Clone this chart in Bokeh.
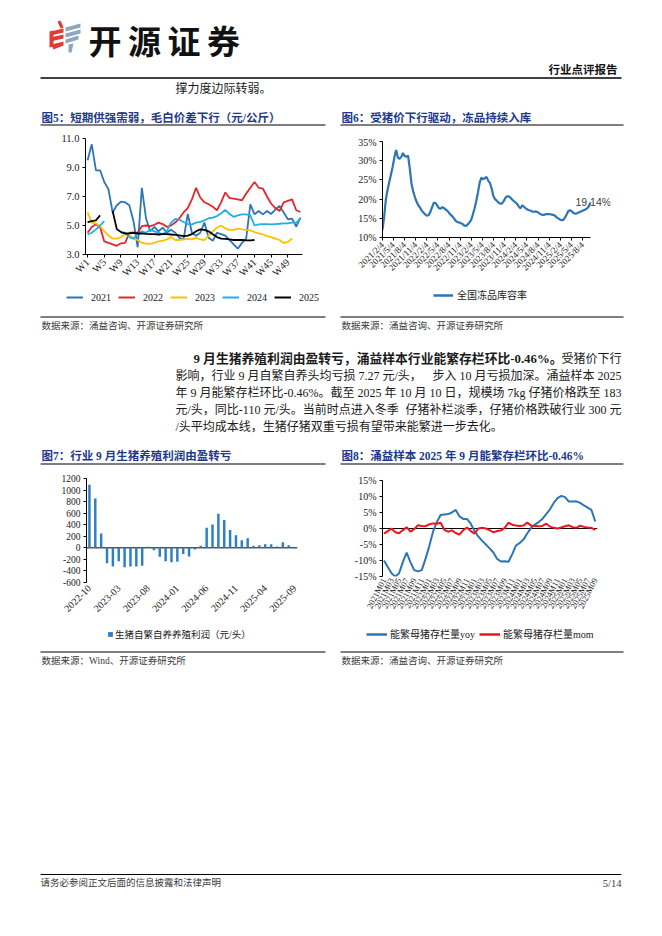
from datetime import datetime
from math import pi

import pandas as pd
from bokeh.core.properties import value
from bokeh.embed import file_html
from bokeh.layouts import column, row
from bokeh.models import (FixedTicker, Label, Legend, LegendItem, NumeralTickFormatter,
                          PrintfTickFormatter, Range1d, Spacer, Span)
from bokeh.plotting import figure
from bokeh.resources import INLINE

NAN = float("nan")

# ---------------- Figure 5 data: weekly spread (yuan/kg) ----------------
week_numbers = list(range(1, 53))
week_tick_labels = ["W1", "W5", "W9", "W13", "W17", "W21", "W25", "W29", "W33",
                    "W37", "W41", "W45", "W49"]
spread_years = ["2021", "2022", "2023", "2024", "2025"]
spread_2021 = [9.5, 10.6, 8.8, 8.8, 8.0, 7.5, 5.9, 6.4, 6.65, 6.6,
               6.4, 5.3, 3.5, 7.6, 5.5, 4.6, 4.9, 4.6, 4.85, 4.5,
               4.7, 4.5, 4.15, 4.05, 5.8, 4.5, 4.3, 4.5, 5.2, 4.15,
               3.95, 4.5, 4.4, 4.3, 4.0, 3.7, 3.4, 3.8, 4.1, 6.46,
               5.77, 6.0, 5.77, 6.0, 5.8, 6.1, 6.35, 5.9, 5.43, 5.47,
               4.92, 5.54]
spread_2022 = [4.5, 4.9, 5.08, 4.9, 3.9, 3.8, 3.7, 3.6, 3.77, 3.8,
               4.5, 4.5, 4.5, 4.95, 5.0, 4.95, 5.05, 5.2, 5.1, 4.9,
               5.0, 5.2, 5.5, 5.9, 6.2, 6.8, 7.6, 6.93, 6.6, 6.47,
               6.3, 6.05, 6.6, 7.28, 6.9, 6.86, 6.8, 6.74, 7.2, 7.6,
               8.0, 7.6, 7.55, 7.0, 6.5, 6.2, 6.0, 6.6, 6.7, 6.8,
               6.05, 5.93]
spread_2023 = [5.9, 5.2, 5.15, 4.95, 4.6, 4.3, 4.1, 4.1, 4.2, 4.4,
               4.35, 4.1, 4.0, 3.8, 3.75, 3.74, 3.8, 3.9, 3.95, 4.04,
               4.2, 4.0, 4.0, 4.05, 4.08, 4.04, 4.15, 4.05, 4.0, 4.3,
               4.6, 4.85, 5.0, 4.8, 4.7, 4.7, 4.78, 4.73, 4.7, 4.66,
               4.55, 4.45, 4.38, 4.27, 4.2, 4.1, 4.0, 3.8, 3.85, 4.1,
               NAN, NAN]
spread_2024 = [4.38, 4.5, 4.73, 5.0, 5.3, NAN, NAN, NAN, 4.5, 4.5,
               4.2, 4.1, 4.4, 4.6, 4.5, 4.7, 4.6, 4.5, 4.4, 4.6,
               5.2, 5.45, 5.4, 5.24, 5.1, 5.08, 5.2, 5.25, 5.35, 5.5,
               5.55, 5.65, 5.85, 6.07, 5.8, 5.6, 5.7, 5.77, 5.77, 5.7,
               5.0, 5.08, 5.1, 5.1, 5.08, 5.1, 5.12, 5.15, 5.15, 5.2,
               5.2, 5.47]
spread_2025 = [5.24, 5.3, 5.35, 5.7, NAN, NAN, 6.0, 4.75, 4.55, 4.45,
               4.45, 4.5, 4.45, 4.45, 4.42, 4.4, 4.4, 4.38, 4.4, 4.4,
               4.38, 4.35, 4.32, 4.27, 4.3, 4.4, 4.6, 4.73, 4.7, 4.6,
               4.4, 4.2, 4.1, 4.08, 4.05, 4.0, 4.0, 4.0, 3.98, 3.98,
               4.0, NAN, NAN, NAN, NAN, NAN, NAN, NAN, NAN, NAN,
               NAN, NAN]
spread_y_ticks = [3.0, 5.0, 7.0, 9.0, 11.0]

# ---------------- Figure 6 data: frozen storage rate (%) ----------------
storage_start = "2021-02-04"
storage_step = "14D"
storage_rate = [12.0, 15.5, 20.0, 22.5, 24.5, 26.5, 28.5, 31.0, 32.8, 30.8,
                30.5, 31.0, 32.0, 31.2, 31.0, 31.3, 28.0, 24.0, 22.0, 20.5,
                19.3, 18.4, 17.8, 17.0, 16.5, 16.0, 15.7, 15.8, 16.6, 17.8,
                19.0, 19.0, 18.4, 17.7, 17.5, 17.9, 17.7, 17.3, 17.0, 16.4,
                15.9, 15.5, 14.9, 14.3, 14.0, 13.9, 13.7, 13.5, 13.1, 13.05,
                13.4, 13.9, 14.6, 16.0, 17.6, 19.5, 21.8, 24.3, 25.6, 25.2,
                25.4, 25.8, 24.8, 24.2, 22.8, 20.8, 20.0, 19.6, 19.1, 18.8,
                18.8, 19.4, 20.3, 20.7, 20.7, 20.4, 19.9, 19.5, 19.1, 18.7,
                18.0, 17.6, 18.4, 18.0, 17.6, 17.3, 17.1, 17.0, 16.7, 16.7,
                16.8, 16.6, 16.3, 16.0, 15.9, 15.9, 16.1, 16.1, 16.1, 16.0,
                15.9, 15.7, 15.3, 15.0, 14.7, 14.5, 14.6, 15.2, 16.0, 16.9,
                17.1, 16.8, 16.4, 16.2, 16.3, 16.5, 16.7, 16.9, 17.1, 17.3,
                17.6, 18.1, 19.14]
storage_tick_labels = ["2021/2/4", "2021/5/4", "2021/8/4", "2021/11/4",
                       "2022/2/4", "2022/5/4", "2022/8/4", "2022/11/4",
                       "2023/2/4", "2023/5/4", "2023/8/4", "2023/11/4",
                       "2024/2/4", "2024/5/4", "2024/8/4", "2024/11/4",
                       "2025/2/4", "2025/5/4", "2025/8/4"]
storage_y_ticks = [10, 15, 20, 25, 30, 35]
storage_legend = "全国冻品库容率"

# ---------------- Figure 7 data: monthly profit (yuan/head) ----------------
profit_months = pd.period_range("2022-10", "2025-09", freq="M").strftime("%Y-%m").tolist()
profit_values = [1092, 852, 246, -268, -325, -234, -337, -325, -325, -308,
                 17, -40, -154, -234, -251, -240, -108, -148, -30, 34,
                 349, 406, 589, 480, 309, 218, 132, 166, 34, 46,
                 63, 63, 25, 97, 46, -7.27]
profit_tick_labels = ["2022-10", "2023-03", "2023-08", "2024-01", "2024-06",
                      "2024-11", "2025-04", "2025-09"]
profit_y_ticks = [-600, -400, -200, 0, 200, 400, 600, 800, 1000, 1200]
profit_legend = "生猪自繁自养养殖利润（元/头）"

# ---------------- Figure 8 data: sow inventory (%) ----------------
sow_months = [f"{y}M{m:02d}" for y in range(2021, 2026) for m in range(1, 13)][:57]
sow_yoy = [-10.0, -12.0, -14.0, -15.0, -14.0, -10.5, -7.5, -10.5, -13.0, -13.4,
           -13.0, -9.5, -5.5, -1.0, 2.0, 4.2, 4.4, 4.5, 5.0, 5.8,
           3.8, 3.0, 3.0, 1.5, -0.8, -2.5, -3.8, -5.0, -6.2, -7.5,
           -9.5, -10.3, -10.2, -10.4, -8.0, -5.3, -4.5, -3.4, -1.5, 0.2,
           1.2, 2.0, 3.0, 4.5, 6.0, 8.0, 9.5, 10.2, 9.8, 8.4,
           8.4, 8.5, 8.0, 7.2, 6.5, 5.8, 2.2]
sow_mom = [-1.6, -0.8, 0.0, -1.2, -1.5, -0.5, 0.4, -1.0, -0.2, 1.0,
           0.8, 0.7, 1.3, 1.6, 1.5, 1.8, -0.4, -1.0, -0.6, -1.4,
           -1.9, -0.5, 0.3, -0.8, -1.6, 0.0, 0.2, 0.0, -0.5, -1.2,
           -0.8, -0.6, 0.2, 1.8, 1.2, 0.9, 0.8, 0.9, 1.9, 0.9,
           0.8, 0.7, 0.8, 1.5, 0.6, 0.2, 0.0, 0.3, 0.7, 1.0,
           0.4, 0.2, 0.9, 0.5, 0.3, 0.2, -0.46]
sow_tick_labels = sow_months[::2]
sow_y_ticks = [-15, -10, -5, 0, 5, 10, 15]
sow_legends = ["能繁母猪存栏量yoy", "能繁母猪存栏量mom"]

for s in (spread_2021, spread_2022, spread_2023, spread_2024, spread_2025):
    assert len(s) == 52
assert len(profit_values) == len(profit_months) == 36
assert len(sow_yoy) == len(sow_mom) == len(sow_months) == 57

# ---------------- styles ----------------
C_BLUE = "#2C75B8"
C_RED = "#E5262B"
C_GOLD = "#FFC000"
C_LIGHT = "#1FAEE8"
C_BLACK = "#000000"
NAVY = "#1D3A8A"
TXT = "#1a1a1a"
SRC = "#3a3a3a"
CJK = "Noto Sans CJK SC"
MIX = "Liberation Serif, Noto Sans CJK SC"
SERIF = "Liberation Serif"
PAGE_W = 662


def strip(top, height):
    p = figure(width=PAGE_W, height=height, x_range=Range1d(0, PAGE_W),
               y_range=Range1d(top + height, top), output_backend="svg",
               toolbar_location=None, x_axis_location=None, y_axis_location=None,
               min_border=0)
    p.outline_line_color = None
    p.xgrid.visible = False
    p.ygrid.visible = False
    return p


def put(p, x, y, s, size, color=TXT, font=MIX, bold=False, align="left"):
    p.text(x=[x], y=[y], text=[s], text_font=value(font), text_font_size=f"{size}px",
           text_color=color, text_font_style="bold" if bold else "normal",
           text_align=align, text_baseline="middle")


def rule(p, x0, x1, y, w=1.0):
    p.segment(x0=[x0], y0=[y], x1=[x1], y1=[y], line_color="black", line_width=w)


def chart(width, height, bl, br, bt, bb, xr, yr, x_axis_type="linear"):
    p = figure(width=width, height=height, x_range=xr, y_range=yr, x_axis_type=x_axis_type,
               output_backend="svg", toolbar_location=None,
               min_border_left=bl, min_border_right=br, min_border_top=bt, min_border_bottom=bb)
    p.outline_line_color = None
    p.xgrid.visible = False
    p.ygrid.visible = False
    for ax in (p.xaxis[0], p.yaxis[0]):
        ax.axis_line_color = "black"
        ax.axis_line_width = 1
        ax.major_tick_line_color = "black"
        ax.major_tick_out = 3
        ax.major_tick_in = 0
        ax.minor_tick_line_color = None
        ax.major_label_text_font = SERIF
        ax.major_label_text_color = TXT
        ax.major_label_standoff = 3
    return p


def make_legend(p, items, loc, font, size, gw, gh, standoff, spacing, label_width=20):
    leg = Legend(items=items, orientation="horizontal", location=loc,
                 label_text_font=font, label_text_font_size=f"{size}px",
                 label_text_color=TXT, glyph_width=gw, glyph_height=gh,
                 label_standoff=standoff, spacing=spacing, padding=0, margin=0,
                 label_height=12, label_width=label_width,
                 border_line_color=None, background_fill_alpha=0)
    p.add_layout(leg)


# ---------------- Strip 1: header (page y 0..133) ----------------
s1 = strip(0, 133)
s1.patches(xs=[[57, 60, 63, 60], [50, 63, 63, 50], [50, 63, 63, 50], [49, 53, 53, 49], [51, 63, 63, 53]],
           ys=[[21, 20, 27, 28], [31, 28, 32, 35], [37, 34, 38, 41], [31, 30, 46, 47], [44, 41, 45, 49]],
           fill_color="#E03C31", line_color=None)
s1.patches(xs=[[65, 80, 80, 65], [65, 80, 80, 65], [65, 78, 78, 65], [68, 73, 71, 68]],
           ys=[[27, 23, 27, 31], [33, 29, 33, 37], [39, 35, 39, 43], [44, 43, 52, 52]],
           fill_color="#8FA7BE", line_color=None)
for ch, cx in zip("开源证券", [104.5, 144, 183.5, 223]):
    put(s1, cx, 39.5, ch, 33, color="#111111", font=CJK, bold=True, align="center")
put(s1, 617, 68, "行业点评报告", 11.5, color="#111111", font=CJK, bold=True, align="right")
rule(s1, 40, 621, 77.5, 1.5)
put(s1, 175, 88, "撑力度边际转弱。", 12)
put(s1, 41, 117, "图5：短期供强需弱，毛白价差下行（元/公斤）", 11.5, color=NAVY, bold=True)
put(s1, 341, 117, "图6：受猪价下行驱动，冻品持续入库", 11.5, color=NAVY, bold=True)
rule(s1, 40, 325, 124.5, 1.2)
rule(s1, 340, 623, 124.5, 1.2)

# ---------------- Figure 5 (page y 133..288) ----------------
p5 = chart(333, 155, 85, 31, 5, 34, Range1d(0.5, 52.5), Range1d(3, 11))
spread_colors = [C_BLUE, C_RED, C_GOLD, C_LIGHT, C_BLACK]
for ys, col in zip([spread_2021, spread_2022, spread_2023, spread_2024, spread_2025], spread_colors):
    p5.line(x=week_numbers, y=ys, line_color=col, line_width=1.8)
p5.xaxis.ticker = FixedTicker(ticks=[int(s[1:]) for s in week_tick_labels])
p5.xaxis.major_label_overrides = {int(s[1:]): s for s in week_tick_labels}
p5.xaxis.major_label_orientation = pi / 4
p5.xaxis.major_label_text_font_size = "10px"
p5.yaxis.ticker = FixedTicker(ticks=spread_y_ticks)
p5.yaxis.formatter = NumeralTickFormatter(format="0.0")
p5.yaxis.major_label_text_font_size = "10.5px"

# ---------------- Figure 6 ----------------
storage_dates = pd.date_range(storage_start, periods=len(storage_rate), freq=storage_step)
storage_pad = pd.Timedelta(days=164)   # room on the right for the end-value label
p6 = chart(329, 145, 49, 52, 5, 44, Range1d(storage_dates[0], storage_dates[-1] + storage_pad),
           Range1d(10, 35), x_axis_type="datetime")
p6.line(x=storage_dates, y=storage_rate, line_color=C_BLUE, line_width=2.2)
tick_ms = [int((pd.Timestamp(datetime.strptime(s, "%Y/%m/%d")) - pd.Timestamp("1970-01-01"))
               // pd.Timedelta("1ms")) for s in storage_tick_labels]
p6.xaxis.ticker = FixedTicker(ticks=tick_ms)
p6.xaxis.major_label_overrides = dict(zip(tick_ms, storage_tick_labels))
p6.xaxis.bounds = (storage_dates[0], storage_dates[-1])
p6.xaxis.major_label_orientation = pi / 4
p6.xaxis.major_label_text_font_size = "9px"
p6.yaxis.ticker = FixedTicker(ticks=storage_y_ticks)
p6.yaxis.formatter = PrintfTickFormatter(format="%d%%")
p6.yaxis.major_label_text_font_size = "10px"
p6.add_layout(Label(x=storage_dates[-1], y=storage_rate[-1], text=f"{storage_rate[-1]:.2f}%",
                    x_offset=-15, text_baseline="middle", text_font="Liberation Sans",
                    text_font_size="10.5px", text_color="#404040"))

# ---------------- Strip 3 (page y 288..468) ----------------
s3 = strip(288, 180)
items5 = []
for lbl, col in zip(spread_years, spread_colors):
    r = s3.line(x=[NAN], y=[NAN], line_color=col, line_width=2)
    items5.append(LegendItem(label=lbl, renderers=[r]))
make_legend(s3, items5, (66, 165), SERIF, 10, 17, 12, 8, 7)
r6 = s3.line(x=[NAN], y=[NAN], line_color=C_BLUE, line_width=2.5)
make_legend(s3, [LegendItem(label=storage_legend, renderers=[r6])], (433, 166), MIX, 10, 20, 12, 4, 0,
            label_width=80)
rule(s3, 40, 325, 316.5, 1.0)
rule(s3, 340, 623, 316.5, 1.0)
put(s3, 41, 325, "数据来源：涌益咨询、开源证券研究所", 9.5, color=SRC)
put(s3, 341, 325, "数据来源：涌益咨询、开源证券研究所", 9.5, color=SRC)
put(s3, 193, 358.5, "9 月生猪养殖利润由盈转亏，涌益样本行业能繁存栏环比-0.46%。", 12.8, bold=True)
put(s3, 621, 358.5, "受猪价下行", 12, align="right")
put(s3, 175, 375.5, "影响，行业 9 月自繁自养头均亏损 7.27 元/头，", 12)
put(s3, 621, 375.5, "步入 10 月亏损加深。涌益样本 2025", 12, align="right")
put(s3, 175, 392.5, "年 9 月能繁存栏环比-0.46%。截至 2025 年 10 月 10 日，", 12)
put(s3, 621, 392.5, "规模场 7kg 仔猪价格跌至 183", 12, align="right")
put(s3, 175, 409.5, "元/头，同比-110 元/头。当前时点进入冬季", 12)
put(s3, 621, 409.5, "仔猪补栏淡季，仔猪价格跌破行业 300 元", 12, align="right")
put(s3, 175, 426.5, "/头平均成本线，生猪仔猪双重亏损有望带来能繁进一步去化。", 12)
put(s3, 41, 455, "图7：行业 9 月生猪养殖利润由盈转亏", 11.5, color=NAVY, bold=True)
put(s3, 341, 455, "图8：涌益样本 2025 年 9 月能繁存栏环比-0.46%", 11.5, color=NAVY, bold=True)
rule(s3, 40, 325, 463.5, 1.2)
rule(s3, 340, 623, 463.5, 1.2)

# ---------------- Figure 7 (page y 468..628) ----------------
BAR = "#2C7FC4"
p7 = chart(333, 160, 86, 36, 10, 46, Range1d(-0.5, len(profit_values) - 0.5), Range1d(-600, 1200))
p7.add_layout(Span(location=0, dimension="width", line_color="black", line_width=1, level="underlay"))
p7.vbar(x=list(range(len(profit_values))), top=profit_values, width=0.42,
        fill_color=BAR, line_color=None)
pos7 = [profit_months.index(s) for s in profit_tick_labels]
p7.xaxis.ticker = FixedTicker(ticks=pos7)
p7.xaxis.major_label_overrides = dict(zip(pos7, profit_tick_labels))
p7.xaxis.major_label_orientation = pi / 4
p7.xaxis.major_label_text_font_size = "10px"
p7.xaxis.axis_line_color = None
p7.xaxis.major_tick_line_color = None
p7.xaxis.major_tick_out = 0
p7.xaxis.major_label_standoff = 4
p7.yaxis.ticker = FixedTicker(ticks=profit_y_ticks)
p7.yaxis.formatter = PrintfTickFormatter(format="%d")
p7.yaxis.major_label_text_font_size = "9.5px"

# ---------------- Figure 8 ----------------
p8 = chart(329, 160, 49, 65, 12, 52, Range1d(-0.4, 56.6), Range1d(-15, 15))
p8.add_layout(Span(location=0, dimension="width", line_color="black", line_width=1, level="underlay"))
sow_x = list(range(len(sow_months)))
p8.line(x=sow_x, y=sow_yoy, line_color=C_BLUE, line_width=2)
p8.line(x=sow_x, y=sow_mom, line_color="#F0141E", line_width=2)
pos8 = [sow_months.index(s) for s in sow_tick_labels]
p8.xaxis.ticker = FixedTicker(ticks=pos8)
p8.xaxis.major_label_overrides = dict(zip(pos8, sow_tick_labels))
p8.xaxis.major_label_orientation = 1.1
p8.xaxis.major_label_text_font_size = "8.5px"
p8.xaxis.axis_line_color = None
p8.xaxis.major_tick_line_color = None
p8.xaxis.major_tick_out = 0
p8.xaxis.major_label_standoff = 2
p8.yaxis.ticker = FixedTicker(ticks=sow_y_ticks)
p8.yaxis.formatter = PrintfTickFormatter(format="%d%%")
p8.yaxis.major_label_text_font_size = "10px"

# ---------------- Strip 5 (page y 628..936) ----------------
s5 = strip(628, 308)
r7 = s5.vbar(x=[NAN], top=[NAN], width=0.5, fill_color=BAR, line_color=None)
make_legend(s5, [LegendItem(label=profit_legend, renderers=[r7])], (107, 295), MIX, 9.5, 6, 6, 2, 0,
            label_width=150)
r8a = s5.line(x=[NAN], y=[NAN], line_color=C_BLUE, line_width=2.5)
r8b = s5.line(x=[NAN], y=[NAN], line_color="#F0141E", line_width=2.5)
make_legend(s5, [LegendItem(label=sow_legends[0], renderers=[r8a]),
                 LegendItem(label=sow_legends[1], renderers=[r8b])],
            (366, 295), MIX, 10, 21, 12, 3, 4)
rule(s5, 40, 325, 651.5, 1.0)
rule(s5, 340, 623, 651.5, 1.0)
put(s5, 41, 660, "数据来源：Wind、开源证券研究所", 9.5, color=SRC)
put(s5, 341, 660, "数据来源：涌益咨询、开源证券研究所", 9.5, color=SRC)
rule(s5, 40, 621, 874, 1.2)
put(s5, 40, 882.5, "请务必参阅正文后面的信息披露和法律声明", 9.5, color=SRC)
put(s5, 621, 882.5, "5/14", 10.5, color=SRC, font=SERIF, align="right")

row2 = row(p5, column(Spacer(width=329, height=3), p6, Spacer(width=329, height=7)))
row4 = row(p7, column(p8))
layout = column(s1, row2, s3, row4, s5)
open("out.html", "w").write(file_html(layout, INLINE))
